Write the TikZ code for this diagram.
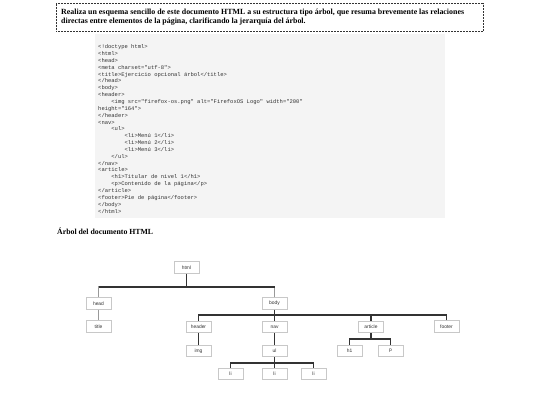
\documentclass[tikz,border=0pt]{standalone}
\usepackage{fontspec}
\setmainfont{Liberation Serif}
\setsansfont{Liberation Sans}
\setmonofont{Liberation Mono}
\definecolor{codebg}{HTML}{F4F4F4}
\definecolor{codetxt}{HTML}{333333}
\definecolor{boxline}{HTML}{C8C8C8}
\definecolor{darkline}{HTML}{333333}
\definecolor{lightline}{HTML}{999999}
\newcommand\ind{\hspace*{2.4em}}
\tikzset{
  tnode/.style={draw=boxline, line width=0.6pt, fill=white, minimum width=25pt, minimum height=11.5pt, inner sep=0pt,
    font=\sffamily\fontsize{4.9}{5.5}\selectfont, text=codetxt},
  dk/.style={draw=darkline, line width=1.1pt},
  lt/.style={draw=lightline, line width=1.1pt},
  ttl/.style={font=\bfseries\fontsize{7.9}{9}\selectfont, anchor=west, inner sep=0pt}
}
\begin{document}
\begin{tikzpicture}[x=1pt,y=-1pt]
\useasboundingbox (0,0) rectangle (540,405);
% instruction box
\draw[darkline, dashed, dash pattern=on 2pt off 1pt, line width=0.8pt] (56,3.5) rectangle (483,31.5);
\node[ttl] (t1) at (61,13) {Realiza un esquema sencillo de este documento HTML a su estructura tipo árbol, que resuma brevemente las relaciones};
\node[ttl] (t2) at (61,22) {directas entre elementos de la página, clarificando la jerarquía del árbol.};
% code box
\fill[codebg] (95,34) rectangle (444.5,218);
\node[anchor=north west, inner sep=0pt, align=left, text=codetxt,
  font=\ttfamily\fontsize{5.5}{6.85}\selectfont] (code) at (98,44.5) {%
<!doctype html>\\
<html>\\
<head>\\
<meta charset="utf-8">\\
<title>Ejercicio opcional árbol</title>\\
</head>\\
<body>\\
<header>\\
\ind<img src="firefox-os.png" alt="FirefoxOS Logo" width="200"\\
height="164">\\
</header>\\
<nav>\\
\ind<ul>\\
\ind\ind<li>Menú 1</li>\\
\ind\ind<li>Menú 2</li>\\
\ind\ind<li>Menú 3</li>\\
\ind</ul>\\
</nav>\\
<article>\\
\ind<h1>Titular de nivel 1</h1>\\
\ind<p>Contenido de la página</p>\\
</article>\\
<footer>Pie de página</footer>\\
</body>\\
</html>};
% heading
\node[ttl, font=\bfseries\fontsize{7.8}{8}\selectfont] (hd) at (57,231) {Árbol del documento HTML};
% tree nodes
\node[tnode] (html) at (186.5,267.5) {html};
\node[tnode] (head) at (98.5,303.5) {head};
\node[tnode] (title) at (98.5,326.5) {title};
\node[tnode] (body) at (274.5,303.5) {body};
\node[tnode] (header) at (198.5,327) {header};
\node[tnode] (nav) at (274.5,327) {nav};
\node[tnode] (article) at (371,327) {article};
\node[tnode] (footer) at (446.5,326.5) {footer};
\node[tnode] (img) at (198.5,351) {img};
\node[tnode] (ul) at (274.5,351) {ul};
\node[tnode] (h1) at (349.5,351) {h1};
\node[tnode] (p) at (390.5,351) {p};
\node[tnode] (li1) at (230.5,374) {li};
\node[tnode] (li2) at (274.5,374) {li};
\node[tnode] (li3) at (313.5,374) {li};
% bar coordinates
\coordinate (b1) at (186.5,287);
\coordinate (b2) at (274.5,315);
\coordinate (b3) at (274.5,363);
\coordinate (b4) at (371,339);
% connectors
\draw[dk] (html.south) -- (b1);
\draw[lt] (head.north) |- (b1);
\draw[lt] (body.north) |- (b1);
\draw[dk] (b1 -| head.north) -- (b1 -| body.north);
\draw[lt] (head) -- (title);
\draw[dk] (body.south) -- (b2);
\draw[dk] (header.north) |- (b2);
\draw[dk] (nav.north) -- (b2);
\draw[dk] (article.north) |- (b2);
\draw[dk] (footer.north) |- (b2);
\draw[dk] (b2 -| header.north) -- (b2 -| footer.north);
\draw[dk] (header) -- (img);
\draw[dk] (nav) -- (ul);
\draw[dk] (ul.south) -- (b3);
\draw[dk] (li1.north) |- (b3);
\draw[dk] (li2.north) -- (b3);
\draw[dk] (li3.north) |- (b3);
\draw[dk] (article.south) -- (b4);
\draw[dk] (h1.north) |- (b4);
\draw[dk] (p.north) |- (b4);
\end{tikzpicture}
\end{document}
